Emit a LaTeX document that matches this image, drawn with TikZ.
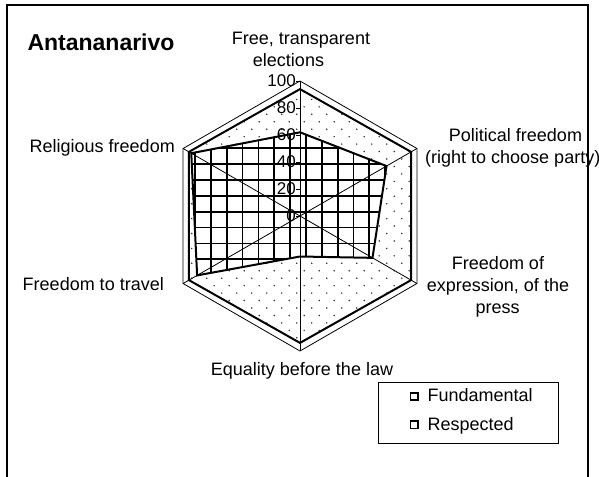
\documentclass[tikz,border=0pt]{standalone}
\usepackage{fontspec}
\setmainfont{Liberation Sans}
\usetikzlibrary{calc}
\begin{document}
\begin{tikzpicture}[x=1pt,y=-1pt,
  lbl/.style={font=\fontsize{18}{20}\selectfont, inner sep=0pt},
  ticklbl/.style={font=\fontsize{17}{18}\selectfont, inner sep=0pt, anchor=east},
  axisline/.style={line width=0.8pt, black},
  serline/.style={line width=2pt, black, line join=miter},
  gridline/.style={line width=1.8pt, black},
  dotcol/.style={fill=black!80},
  frameline/.style={line width=2pt, black}]
\useasboundingbox (0,0) rectangle (599,476);
\fill[white] (0,0) rectangle (599,476);
\coordinate (C) at (300,216);
\foreach \n/\a/\f/\r in {E/-90/94/62, P/-30/95/74, X/30/95/62, Q/90/94/30, T/150/95/88, R/210/95/93}{
  \coordinate (\n100) at ($(C)+(\a:135)$);
  \coordinate (\n F) at ($(C)+(\a:1.35*\f)$);
  \coordinate (\n S) at ($(C)+(\a:1.35*\r)$);
}
% Fundamental: dotted fill
\begin{scope}
  \clip (EF)--(PF)--(XF)--(QF)--(TF)--(RF)--cycle;
  \foreach \j in {-26,...,13}{
    \pgfmathsetmacro{\yy}{263.3+7.45*\j}
    \pgfmathsetmacro{\xo}{-7.5*abs(mod(\j,2))}
    \foreach \i in {-10,...,9}{
      \fill[dotcol] (311.7+15*\i+\xo,\yy) circle (0.85);
    }
  }
\end{scope}
% Respected: grid fill
\begin{scope}
  \clip (ES)--(PS)--(XS)--(QS)--(TS)--(RS)--cycle;
  \fill[white] (150,60) rectangle (440,370);
  \foreach \k in {-4,...,16} \draw[gridline] (195+15.85*\k,60) -- (195+15.85*\k,370);
  \foreach \k in {-7,...,14} \draw[gridline] (150,148.3+15.85*\k) -- (440,148.3+15.85*\k);
\end{scope}
% axes and outer gridline
\foreach \n in {E,P,X,Q,T,R} \draw[axisline] (C) -- (\n100);
\draw[axisline] (E100)--(P100)--(X100)--(Q100)--(T100)--(R100)--cycle;
% series outlines
\draw[serline] (EF)--(PF)--(XF)--(QF)--(TF)--(RF)--cycle;
\draw[serline] (ES)--(PS)--(XS)--(QS)--(TS)--(RS)--cycle;
% scale
\foreach \v in {0,20,40,60,80,100}{
  \coordinate (tk\v) at ($(C)+(0,-1.35*\v)$);
  \coordinate (tl\v) at ($(C)+(-4,-1.35*\v)$);
  \draw[axisline] (tl\v) -- (tk\v);
  \node[ticklbl] (t\v) at (tl\v) {\v};
}
% frame
\draw[frameline] (7,478) -- (7,5.3) -- (588.3,5.3) -- (588.3,478);
% title
\node[anchor=base west, inner sep=0pt, font=\bfseries\fontsize{23}{26}\selectfont] (title) at (27.3,50.7) {Antananarivo};
% axis labels
\node[lbl, anchor=base] (le1) at (301,45) {Free, transparent};
\node[lbl, anchor=base] (le2) at (288.5,66.7) {elections};
\node[lbl, anchor=base] (lp1) at (515.5,141) {Political freedom};
\node[lbl, anchor=base west] (lp2) at (425,163.3) {(right to choose party)};
\node[lbl, anchor=base] (lx1) at (498,269.3) {Freedom of};
\node[lbl, anchor=base] (lx2) at (498,291.7) {expression, of the};
\node[lbl, anchor=base] (lx3) at (497.5,313.3) {press};
\node[lbl, anchor=base] (lq) at (302,375.7) {Equality before the law};
\node[lbl, anchor=base east] (lt) at (164,290.7) {Freedom to travel};
\node[lbl, anchor=base east] (lr) at (175,152.7) {Religious freedom};
% legend
\draw[line width=0.8pt] (378.3,382.7) rectangle (558.3,443.5);
\draw[line width=1.6pt] (410.3,392.7) rectangle (417.7,400.1);
\draw[line width=1.6pt] (410.3,420.9) rectangle (417.7,428.3);
\node[lbl, anchor=base west] (lgf) at (427.3,401.7) {Fundamental};
\node[lbl, anchor=base west] (lgr) at (427.3,430.7) {Respected};
\end{tikzpicture}
\end{document}
